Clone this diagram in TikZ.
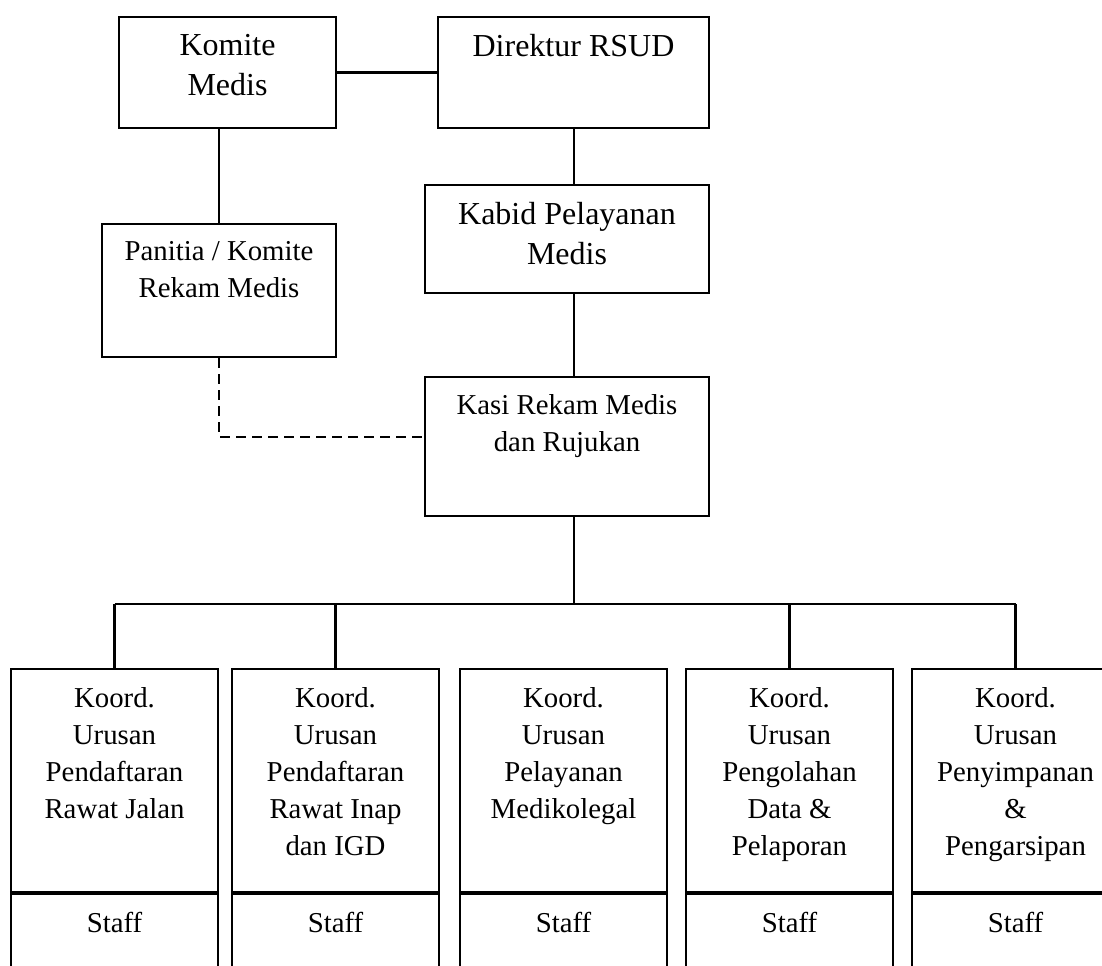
\documentclass[tikz,border=0pt]{standalone}
\usepackage{fontspec}
\setmainfont{Liberation Serif}
\usetikzlibrary{calc}
\newcommand{\orgfont}{\fontsize{14.4pt}{18.5pt}\selectfont}
\newcommand{\topfont}{\fontsize{16pt}{20pt}\selectfont}

\begin{document}
\begin{tikzpicture}[x=0.5pt, y=-0.5pt,
		unit/.style={draw, line width=1.15pt, inner sep=0pt},
		lbl/.style={anchor=north, inner sep=0pt, align=center, font=\orgfont},
		biglbl/.style={lbl, font=\topfont},
		link/.style={line width=1.1pt},
		dashlink/.style={line width=1.1pt, dash pattern=on 5pt off 3pt}]
	\clip (0,0) rectangle (1102,965);

	% upper part
	\node[unit, minimum width=108.5pt, minimum height=55.5pt] (kom) at (227.5,72.5) {};
	\node[unit, minimum width=135.5pt, minimum height=55.5pt] (dir) at (573.5,72.5) {};
	\node[unit, minimum width=117pt, minimum height=66.5pt] (pan) at (219,290.5) {};
	\node[unit, minimum width=142pt, minimum height=54pt] (kab) at (567,239) {};
	\node[unit, minimum width=142pt, minimum height=69.5pt] (kas) at (567,446.5) {};

	\node[biglbl] (kom-t) at ([yshift=-9pt]kom.north) {Komite\\Medis};
	\node[biglbl] (dir-t) at ([yshift=-9pt]dir.north) {Direktur RSUD};
	\node[lbl] (pan-t) at ([yshift=-9.25pt]pan.north) {Panitia / Komite\\Rekam Medis};
	\node[biglbl] (kab-t) at ([yshift=-9pt]kab.north) {Kabid Pelayanan\\Medis};
	\node[lbl] (kas-t) at ([yshift=-9pt]kas.north) {Kasi Rekam Medis\\dan Rujukan};

	% lower part
	\foreach \n/\cx/\txt in {1/114.5/{Koord.\\Urusan\\Pendaftaran\\Rawat Jalan},
			2/335.5/{Koord.\\Urusan\\Pendaftaran\\Rawat Inap\\dan IGD},
			3/563.5/{Koord.\\Urusan\\Pelayanan\\Medikolegal},
			4/789.5/{Koord.\\Urusan\\Pengolahan\\Data \&\\Pelaporan},
			5/1015.5/{Koord.\\Urusan\\Penyimpanan\\\&\\Pengarsipan}}{
		\node[unit, minimum width=103.5pt, minimum height=111.5pt] (koord\n) at (\cx,780.5) {};
		\node[unit, minimum width=103.5pt, minimum height=59pt, anchor=north] (staff\n) at (koord\n.south) {};
		\node[lbl] (koord\n-t) at ([yshift=-9.75pt]koord\n.north) {\txt};
		\node[lbl] (staff\n-t) at ([yshift=-9.5pt]staff\n.north) {Staff};
	}

	\coordinate (spine) at (574,0);
	\coordinate (bus) at (0,604);
	\coordinate (dashlvl) at (0,437);

	\draw[link] (kom.east) -- (dir.west);
	\draw[link] (pan.north) -- (pan.north |- kom.south);
	\draw[link] (spine |- dir.south) -- (spine |- kab.north);
	\draw[link] (spine |- kab.south) -- (spine |- kas.north);
	\draw[link] (spine |- kas.south) -- (spine |- bus);
	\draw[link] (koord1.north |- bus) -- (koord5.north |- bus);
	\draw[link] (koord1.north) -- (koord1.north |- bus);
	\draw[link] (koord2.north) -- (koord2.north |- bus);
	\draw[link] (koord4.north) -- (koord4.north |- bus);
	\draw[link] (koord5.north) -- (koord5.north |- bus);
	\draw[dashlink] (pan.south) |- (kas.west |- dashlvl);
\end{tikzpicture}
\end{document}
